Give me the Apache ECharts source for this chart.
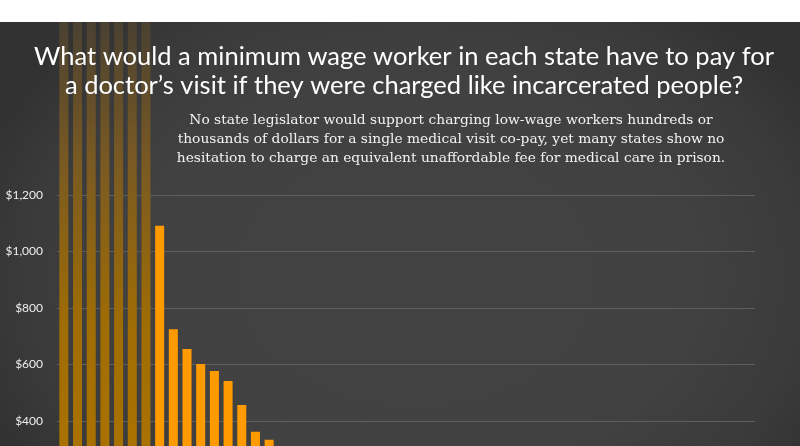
<!DOCTYPE html>
<html>
<head>
<meta charset="utf-8">
<script src="https://cdn.jsdelivr.net/npm/echarts@6/dist/echarts.min.js"></script>
<style>
  html, body { margin: 0; padding: 0; background: #fff; }
  #wrap { position: relative; width: 800px; height: 446px; overflow: hidden; }
  #bg { position: absolute; left: 0; top: 22px; width: 800px; height: 424px;
        background: radial-gradient(ellipse 58% 80% at 52% 60%, #434343 0%, #414141 60%, #3a3a3a 85%, #323232 100%); }
  #chart { position: absolute; left: 0; top: 0; width: 800px; height: 540px; }
  #strip { position: absolute; left: 0; top: 0; width: 800px; height: 22px; background: #fff; z-index: 5; }
</style>
</head>
<body>
<div id="wrap">
  <div id="bg"></div>
  <div id="chart"></div>
  <div id="strip"></div>
</div>
<script>
// States ordered by equivalent cost of a medical visit for a minimum wage worker
const states = [
  'Alabama','Arkansas','Florida','Georgia','Mississippi','South Carolina','Texas',
  'Michigan','Louisiana','Oklahoma','Kentucky','Missouri','Virginia','Tennessee','Utah','Colorado',
  'Arizona','Nevada','Indiana','West Virginia','Idaho','Wyoming','Iowa','Ohio','Kansas',
  'Wisconsin','North Carolina','Pennsylvania','Montana','South Dakota','Delaware','Maryland',
  'New Hampshire','Connecticut','Massachusetts','Washington','Oregon','Maine','Vermont',
  'Rhode Island','New Jersey','Hawaii','Alaska','California','Minnesota','North Dakota',
  'District of Columbia','Illinois','Nebraska','New Mexico','New York'
];
// States that pay incarcerated people nothing: cost is unbounded (drawn faded, off the top)
const noWageStates = ['Alabama','Arkansas','Florida','Georgia','Mississippi','South Carolina','Texas'];
const noWageDisplayValue = 1900;
// Equivalent cost in dollars (null for unbounded states)
const costs = [
  null, null, null, null, null, null, null,
  1091, 725, 655, 602, 577, 542, 457, 362, 334,
  300, 290, 270, 250, 240, 230, 210, 200, 190,
  180, 170, 160, 150, 140, 130, 120,
  110, 100, 90, 80, 70, 60, 55,
  50, 45, 40, 35, 30, 25, 20,
  0, 0, 0, 0, 0
];
const yTicks = [0, 200, 400, 600, 800, 1000, 1200];

const fadedColor = {
  type: 'linear', x: 0, y: 22, x2: 0, y2: 430, global: true,
  colorStops: [
    { offset: 0, color: '#4a4132' },
    { offset: 0.35, color: '#7a5a22' },
    { offset: 0.75, color: '#a06d04' },
    { offset: 1, color: '#a87100' }
  ]
};

const seriesData = states.map((s, i) => {
  if (noWageStates.includes(s)) {
    return { value: noWageDisplayValue, itemStyle: { color: fadedColor } };
  }
  return { value: costs[i] };
});

const chart = echarts.init(document.getElementById('chart'), null, { renderer: 'canvas' });
chart.setOption({
  backgroundColor: 'transparent',
  animation: false,
  title: [
    {
      text: 'What would a minimum wage worker in each state have to pay for\na doctor\u2019s visit if they were charged like incarcerated people?',
      left: 399, top: 37, textAlign: 'center',
      textStyle: { fontFamily: 'Lato', fontSize: 25.5, fontWeight: 'normal', color: '#ffffff', lineHeight: 29 }
    },
    {
      text: 'No state legislator would support charging low-wage workers hundreds or\nthousands of dollars for a single medical visit co-pay, yet many states show no\nhesitation to charge an equivalent unaffordable fee for medical care in prison.',
      left: 446, top: 106, textAlign: 'center',
      textStyle: { fontFamily: 'DejaVu Serif', fontSize: 13.8, fontWeight: 'normal', color: '#f2f2f2', lineHeight: 19, align: 'center' }
    }
  ],
  grid: { left: 57, right: 45, top: 195, bottom: 4, containLabel: false },
  xAxis: {
    type: 'category', data: states,
    axisLine: { show: false }, axisTick: { show: false }, axisLabel: { show: false }
  },
  yAxis: {
    type: 'value', min: yTicks[0], max: yTicks[yTicks.length - 1], interval: 200,
    axisLine: { show: false }, axisTick: { show: false },
    splitLine: { lineStyle: { color: '#5e5e5e', width: 1 } },
    axisLabel: {
      color: '#eeeeee', fontFamily: 'Lato', fontSize: 12, margin: 14,
      formatter: v => '$' + v.toLocaleString('en-US')
    }
  },
  series: [{
    type: 'bar', data: seriesData, clip: false, barCategoryGap: '34%',
    itemStyle: { color: '#ff9a00' }
  }]
});
</script>
</body>
</html>
